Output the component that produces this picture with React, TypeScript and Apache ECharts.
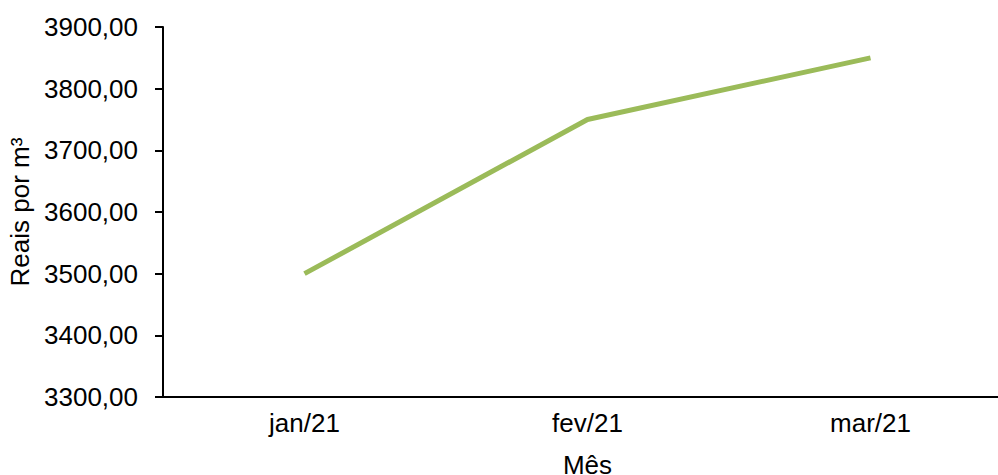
import React, { useEffect, useRef } from "react";
import * as echarts from "echarts";

const categories = ["jan/21", "fev/21", "mar/21"];
const values = [3500, 3750, 3850];
const yMin = 3300;
const yMax = 3900;
const yStep = 100;

export default function App() {
  const ref = useRef<HTMLDivElement>(null);
  useEffect(() => {
    if (!ref.current) return;
    const chart = echarts.init(ref.current, null, { renderer: "svg" });
    const font = "'Liberation Sans', Arial, sans-serif";
    chart.setOption({
      animation: false,
      backgroundColor: "#ffffff",
      grid: {
        left: 163,
        top: 27,
        bottom: 78,
        right: -14,
        containLabel: false,
        outerBoundsMode: "none",
      },
      xAxis: {
        type: "category",
        data: categories,
        boundaryGap: true,
        name: "Mês",
        nameLocation: "middle",
        nameGap: 55,
        nameTextStyle: { fontFamily: font, fontSize: 26, color: "#000" },
        axisLine: { lineStyle: { color: "#000", width: 2 } },
        axisTick: { show: false },
        axisLabel: { fontFamily: font, fontSize: 26, color: "#000", margin: 13 },
        splitLine: { show: false },
      },
      yAxis: {
        type: "value",
        min: yMin,
        max: yMax,
        interval: yStep,
        name: "Reais por m³",
        nameLocation: "middle",
        nameGap: 130,
        nameTextStyle: { fontFamily: font, fontSize: 26, color: "#000" },
        axisLine: { show: true, lineStyle: { color: "#000", width: 2 } },
        axisTick: { show: true, length: 8, lineStyle: { color: "#000", width: 2 } },
        axisLabel: {
          fontFamily: font,
          fontSize: 26,
          color: "#000",
          margin: 25,
          formatter: (v: number) => v.toFixed(2).replace(".", ","),
        },
        splitLine: { show: false },
      },
      series: [
        {
          type: "line",
          data: values,
          symbol: "none",
          lineStyle: { color: "#9BBB59", width: 5 },
        },
      ],
    });
    return () => chart.dispose();
  }, []);
  return (
    <div
      ref={ref}
      style={{ position: "fixed", left: 0, top: 0, width: 998, height: 475 }}
    />
  );
}
